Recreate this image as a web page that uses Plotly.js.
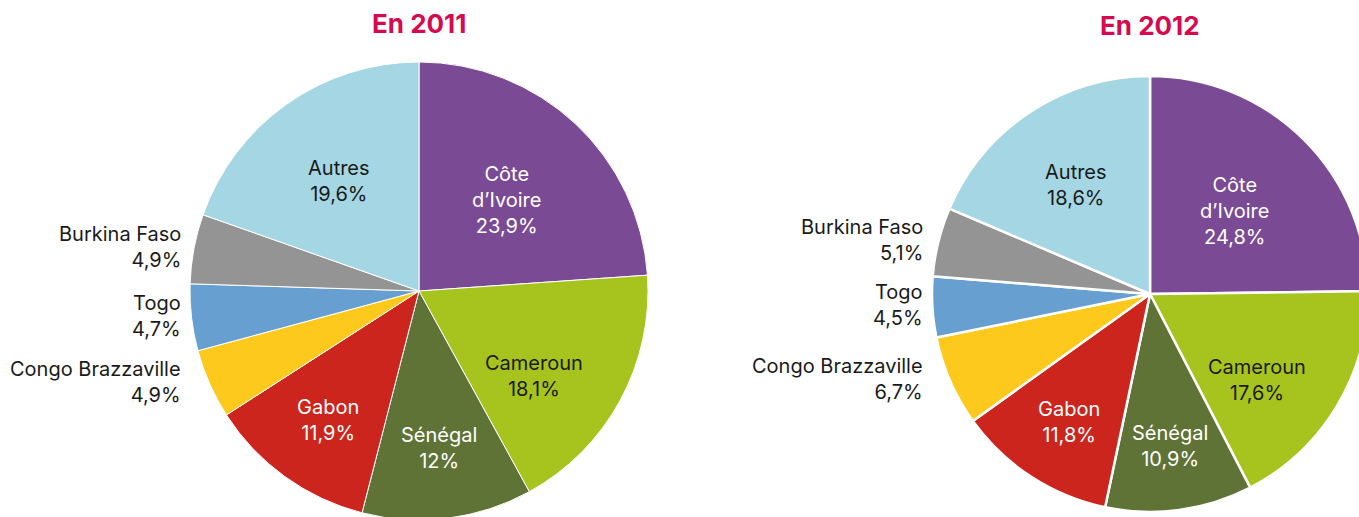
<!DOCTYPE html>
<html>
<head>
<meta charset="utf-8">
<script src="https://cdn.plot.ly/plotly-3.0.1.min.js"></script>
<style>
html,body{margin:0;padding:0;overflow:hidden;background:#fff;width:1359px;height:517px;}
#chart{width:1380px;height:530px;}
</style>
</head>
<body>
<div id="chart"></div>
<script>
// ---- data ----
const categories = ['Côte d’Ivoire', 'Cameroun', 'Sénégal', 'Gabon', 'Congo Brazzaville', 'Togo', 'Burkina Faso', 'Autres'];
const values2011 = [23.9, 18.1, 12, 11.9, 4.9, 4.7, 4.9, 19.6];
const values2012 = [24.8, 17.6, 10.9, 11.8, 6.7, 4.5, 5.1, 18.6];
const titles = ['En 2011', 'En 2012'];

// ---- styles ----
const colors = ['#7a4b94', '#a7c41e', '#5f7336', '#cb251d', '#fdc91d', '#679fd0', '#949494', '#a5d6e3'];
const outside = [false, false, false, false, true, true, true, false];
const darkInside = [false, true, false, false, false, false, false, true];
const labelAngleNudge = [0, 0.12, 0, 0, 0, 0, 0, 0];

// ---- layout geometry ----
const W = 1380, H = 530;
const pies = [
  {vals: values2011, cx: 419, cy: 291, r: 229, line: 1, title: titles[0], ty: 24},
  {vals: values2012, cx: 1150, cy: 294, r: 218, line: 2.5, title: titles[1], ty: 26}
];
const FONT = 'Inter, Liberation Sans, Arial, sans-serif';
const fmt = v => String(v).replace('.', ',') + '%';

const traces = [];
const annotations = [];
pies.forEach(p => {
  traces.push({
    type: 'pie',
    labels: categories,
    values: p.vals,
    sort: false,
    direction: 'clockwise',
    rotation: 0,
    textinfo: 'none',
    hoverinfo: 'none',
    marker: {colors: colors, line: {color: '#ffffff', width: p.line}},
    domain: {x: [(p.cx - p.r) / W, (p.cx + p.r) / W], y: [1 - (p.cy + p.r) / H, 1 - (p.cy - p.r) / H]},
    showlegend: false
  });
  const total = p.vals.reduce((a, b) => a + b, 0);
  let cum = 0;
  p.vals.forEach((v, i) => {
    const frac = v / total;
    const mid = (cum + frac / 2) * 2 * Math.PI;
    cum += frac;
    const name = categories[i].replace('Côte ', 'Côte<br>');
    const txt = name + '<br>' + fmt(v);
    if (outside[i]) {
      const px = p.cx - p.r * 1.03;
      const py = p.cy - p.r * Math.cos(mid) - 2;
      annotations.push({
        xref: 'paper', yref: 'paper', x: px / W, y: 1 - py / H,
        xanchor: 'right', yanchor: 'middle', align: 'right', showarrow: false,
        text: txt, font: {family: FONT, size: 20, color: '#1a1a1a'}
      });
    } else {
      const f = 0.8 - frac;
      const a = mid + labelAngleNudge[i];
      const px = p.cx + p.r * f * Math.sin(a);
      const py = p.cy - p.r * f * Math.cos(a) + 3;
      annotations.push({
        xref: 'paper', yref: 'paper', x: px / W, y: 1 - py / H,
        xanchor: 'center', yanchor: 'middle', align: 'center', showarrow: false,
        text: txt, font: {family: FONT, size: 20, color: darkInside[i] ? '#1a1a1a' : '#ffffff'}
      });
    }
  });
  annotations.push({
    xref: 'paper', yref: 'paper', x: p.cx / W, y: 1 - p.ty / H,
    xanchor: 'center', yanchor: 'middle', showarrow: false,
    text: '<b>' + p.title + '</b>', font: {family: FONT, size: 26, color: '#d50b4f'}
  });
});

Plotly.newPlot('chart', traces, {
  width: W, height: H,
  margin: {l: 0, r: 0, t: 0, b: 0},
  paper_bgcolor: '#ffffff',
  showlegend: false,
  annotations: annotations
}, {staticPlot: true, displayModeBar: false});
</script>
</body>
</html>
